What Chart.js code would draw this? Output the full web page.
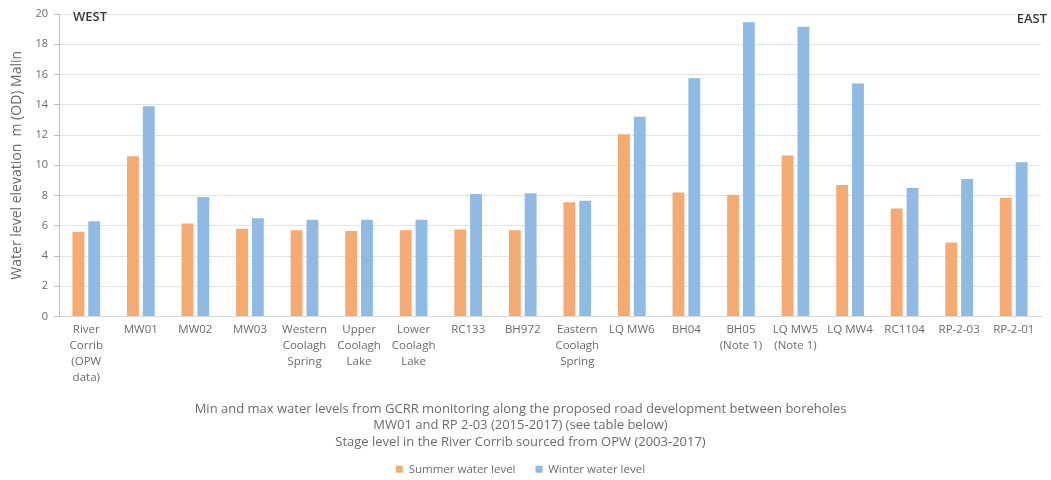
<!DOCTYPE html>
<html>
<head>
<meta charset="utf-8">
<script src="https://cdn.jsdelivr.net/npm/chart.js@4/dist/chart.umd.min.js"></script>
<style>
html,body{margin:0;padding:0;background:#fff;}
#wrap{width:1051px;height:480px;position:relative;}
</style>
</head>
<body>
<div id="wrap"><canvas id="c"></canvas></div>
<script>
const categories = [
  ["River","Corrib","(OPW","data)"], "MW01", "MW02", "MW03",
  ["Western","Coolagh","Spring"], ["Upper","Coolagh","Lake"], ["Lower","Coolagh","Lake"],
  "RC133", "BH972", ["Eastern","Coolagh","Spring"], "LQ MW6", "BH04",
  ["BH05","(Note 1)"], ["LQ MW5","(Note 1)"], "LQ MW4", "RC1104", "RP-2-03", "RP-2-01"
];
const summerLevels = [5.6, 10.6, 6.15, 5.8, 5.7, 5.65, 5.7, 5.75, 5.7, 7.55, 12.05, 8.2, 8.05, 10.65, 8.7, 7.15, 4.9, 7.85];
const winterLevels = [6.3, 13.9, 7.9, 6.5, 6.4, 6.4, 6.4, 8.1, 8.15, 7.65, 13.2, 15.75, 19.45, 19.15, 15.4, 8.5, 9.1, 10.2];
const seriesNames = ["Summer water level", "Winter water level"];
const yTitle = "Water level elevation  m (OD) Malin";
const titleLines = [
  "Min and max water levels from GCRR monitoring along the proposed road development between boreholes",
  "MW01 and RP 2-03 (2015-2017) (see table below)",
  "Stage level in the River Corrib sourced from OPW (2003-2017)"
];
const sideLabels = ["WEST", "EAST"];

const FONT = "'Open Sans', Lato, 'Liberation Sans', sans-serif";

const sidePlugin = {
  id: 'sideLabels',
  afterDraw(chart) {
    const ctx = chart.ctx, a = chart.chartArea;
    ctx.save();
    ctx.font = "600 13px " + FONT;
    ctx.fillStyle = "#3a3a3a";
    ctx.textBaseline = "top";
    ctx.textAlign = "left";
    ctx.fillText(sideLabels[0], a.left + 14, 11);
    ctx.textAlign = "right";
    ctx.fillText(sideLabels[1], 1047, 13);
    ctx.restore();
  }
};

new Chart(document.getElementById('c'), {
  type: 'bar',
  data: {
    labels: categories,
    datasets: [
      { label: seriesNames[0], data: summerLevels, backgroundColor: '#F5AA72', barPercentage: 0.75, categoryPercentage: 0.58 },
      { label: seriesNames[1], data: winterLevels, backgroundColor: '#8FBAE3', barPercentage: 0.75, categoryPercentage: 0.58 }
    ]
  },
  options: {
    responsive: true,
    maintainAspectRatio: false,
    animation: false,
    layout: { padding: { left: 0, right: 10, top: 14, bottom: -5 } },
    scales: {
      x: {
        grid: { display: false },
        border: { display: true, color: '#d9d9d9' },
        ticks: { autoSkip: false, maxRotation: 0, minRotation: 0, color: '#6b6b6b',
                 font: { family: FONT, size: 11.5, lineHeight: 1.4 }, padding: -3 }
      },
      y: {
        min: 0, max: 20,
        afterFit(scale) { scale.width = 59; },
        ticks: { stepSize: 2, color: '#6b6b6b', font: { family: FONT, size: 11 }, padding: 6 },
        grid: { color: '#e3e3e3', drawTicks: true, tickLength: 5, tickColor: '#bfbfbf' },
        border: { display: true, color: '#bfbfbf' },
        title: { display: true, text: yTitle, color: '#6b6b6b', font: { family: FONT, size: 14 }, padding: { top: 9, bottom: 0 } }
      }
    },
    plugins: {
      legend: {
        position: 'bottom', weight: 3000,
        labels: { boxWidth: 7, boxHeight: 7, color: '#6b6b6b', font: { family: FONT, size: 11.5 }, padding: 20 }
      },
      title: {
        display: true, position: 'bottom', text: titleLines, color: '#6b6b6b',
        font: { family: FONT, size: 13, weight: 'normal', lineHeight: 1.27 },
        padding: { top: 18, bottom: -7 }
      },
      tooltip: { enabled: false }
    }
  },
  plugins: [sidePlugin]
});
</script>
</body>
</html>
